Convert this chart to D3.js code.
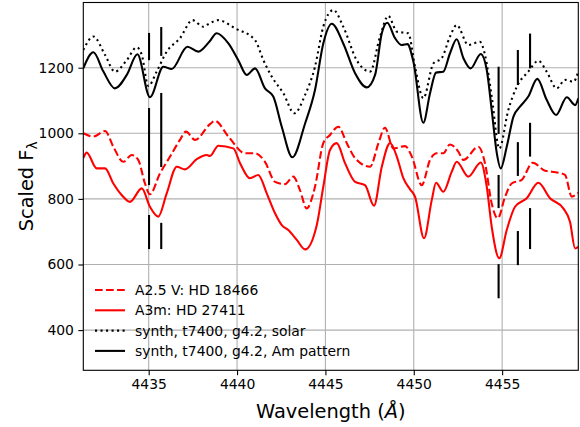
<!DOCTYPE html>
<html>
<head>
<meta charset="utf-8">
<script src="https://cdn.jsdelivr.net/npm/d3@7"></script>
<style>
  html, body { margin: 0; padding: 0; background: #fff; }
  svg { display: block; font-family: "DejaVu Sans", sans-serif; }
</style>
</head>
<body>
<svg id="chart" width="580" height="427"></svg>
<script>
// Spectra around 4430–4460 Å: observed stars (red) and synthetic models (black)
const a25vHD18466 = [
  [4431.30,1000],[4431.87,990],[4432.53,1007],[4433.00,959],[4433.56,913],[4434.04,934],
  [4434.41,919],[4434.79,847],[4435.07,814],[4435.64,878],[4436.21,929],[4436.77,980],
  [4437.11,1005],[4437.62,980],[4438.47,1028],[4438.75,1038],[4439.51,990],[4440.45,939],
  [4441.02,939],[4441.58,913],[4442.15,852],[4442.71,845],[4443.18,868],[4443.56,827],
  [4443.94,771],[4444.41,837],[4444.88,970],[4445.26,995],[4445.73,1020],[4446.21,970],
  [4446.68,924],[4447.53,898],[4448.00,970],[4448.37,1017],[4448.84,954],[4449.51,961],
  [4449.89,929],[4450.45,842],[4450.92,919],[4451.30,939],[4451.67,939],[4452.05,966],
  [4452.52,944],[4452.81,919],[4453.65,959],[4454.03,909],[4454.41,786],[4454.75,741],
  [4455.17,807],[4455.54,847],[4456.11,858],[4456.73,910],[4457.43,886],[4458.18,880],
  [4458.56,873],[4458.94,807],[4459.31,819]
];

const a3mHD27411 = [
  [4431.30,924],[4431.49,941],[4432.06,893],[4432.53,893],[4433.00,847],[4433.47,812],
  [4433.94,791],[4434.61,832],[4435.07,776],[4435.54,746],[4436.02,817],[4436.59,898],
  [4437.06,890],[4437.72,921],[4438.28,934],[4438.47,931],[4438.94,962],[4439.79,954],
  [4440.17,909],[4440.73,863],[4441.20,873],[4441.68,817],[4442.15,756],[4442.53,720],
  [4442.90,705],[4443.38,675],[4443.85,646],[4444.51,720],[4444.88,837],[4445.26,949],
  [4445.64,970],[4446.11,909],[4446.68,852],[4447.24,842],[4447.75,779],[4448.19,898],
  [4448.66,970],[4449.04,929],[4449.41,863],[4449.79,829],[4450.07,807],[4450.58,680],
  [4451.02,797],[4451.26,849],[4451.67,822],[4452.15,883],[4452.43,913],[4453.09,868],
  [4453.79,911],[4454.13,837],[4454.41,715],[4454.84,619],[4455.26,705],[4455.73,776],
  [4456.39,802],[4457.05,849],[4457.71,802],[4458.46,771],[4458.84,730],[4459.13,649],
  [4459.31,654]
];

const synthSolar = [
  [4431.30,1254],[4431.87,1295],[4432.53,1239],[4433.09,1188],[4433.76,1223],[4434.32,1262],
  [4434.61,1239],[4434.98,1144],[4435.45,1188],[4436.02,1249],[4436.77,1290],[4437.48,1345],
  [4438.09,1325],[4438.43,1335],[4438.94,1345],[4439.89,1320],[4441.02,1284],[4441.49,1223],
  [4441.96,1173],[4442.62,1122],[4443.24,1061],[4443.85,1117],[4444.41,1203],[4444.88,1325],
  [4445.45,1376],[4446.01,1325],[4446.77,1223],[4447.53,1188],[4448.09,1295],[4448.56,1358],
  [4449.04,1310],[4449.69,1305],[4450.07,1203],[4450.54,1107],[4451.11,1213],[4451.58,1229],
  [4452.05,1295],[4452.43,1330],[4453.09,1269],[4453.75,1279],[4454.03,1239],[4454.41,1112],
  [4454.84,954],[4455.35,1071],[4455.83,1142],[4456.48,1188],[4457.05,1221],[4457.52,1188],
  [4458.09,1137],[4458.56,1163],[4459.03,1157],[4459.31,1188]
];

const synthAm = [
  [4431.30,1198],[4431.87,1247],[4432.43,1189],[4433.09,1137],[4433.76,1178],[4434.36,1241],
  [4435.07,1110],[4435.83,1203],[4436.30,1196],[4437.19,1264],[4437.81,1249],[4438.43,1279],
  [4438.85,1305],[4439.51,1274],[4440.07,1223],[4440.55,1178],[4441.02,1198],[4441.58,1137],
  [4442.05,1112],[4442.53,1020],[4443.13,927],[4443.85,1030],[4444.41,1132],[4444.88,1274],
  [4445.36,1334],[4446.01,1274],[4446.68,1183],[4447.34,1140],[4447.81,1178],[4448.19,1305],
  [4448.50,1337],[4448.94,1290],[4449.32,1269],[4449.64,1272],[4449.98,1218],[4450.54,1032],
  [4450.92,1122],[4451.26,1185],[4451.67,1188],[4452.05,1244],[4452.43,1287],[4452.81,1229],
  [4453.22,1198],[4453.79,1242],[4454.13,1193],[4454.41,1071],[4454.70,939],[4454.92,893],
  [4455.26,959],[4455.64,1051],[4456.01,1081],[4456.48,1112],[4456.99,1166],[4457.52,1102],
  [4458.05,1056],[4458.66,1110],[4459.13,1086],[4459.31,1107]
];

// Line identifications: wavelength and the flux spans of each marker segment
const markerWavelengths = [4435.02, 4435.71, 4454.80, 4455.89, 4456.58];
const markerSpans = [
  [[1223,1306],[842,1077],[647,751]],
  [[1236,1324],[897,1123],[647,727]],
  [[998,1203],[772,873],[497,601]],
  [[1147,1254],[870,973],[598,702]],
  [[1198,1304],[929,1032],[647,772]]
];

const xTicks = [4435, 4440, 4445, 4450, 4455];
const yTicks = [400, 600, 800, 1000, 1200];
const xDomain = [4431.30, 4459.31];
const yDomain = [277.4, 1398.8];

const seriesLabels = [
  "A2.5 V: HD 18466",
  "A3m: HD 27411",
  "synth, t7400, g4.2, solar",
  "synth, t7400, g4.2, Am pattern"
];

const svg = d3.select("#chart");
const plot = { left: 83.3, right: 578.3, top: 2.5, bottom: 370.3 };

const x = d3.scaleLinear().domain(xDomain).range([plot.left, plot.right]);
const y = d3.scaleLinear().domain(yDomain).range([plot.bottom, plot.top]);

const lw = 2.08;
const styles = [
  { data: a25vHD18466, color: "#ff0000", dash: `${3.7*lw},${1.6*lw}` },
  { data: a3mHD27411, color: "#ff0000", dash: null },
  { data: synthSolar, color: "#000000", dash: `${1*lw},${1.65*lw}` },
  { data: synthAm, color: "#000000", dash: null }
];

svg.append("defs").append("clipPath").attr("id", "clip")
  .append("rect")
  .attr("x", plot.left).attr("y", plot.top)
  .attr("width", plot.right - plot.left).attr("height", plot.bottom - plot.top);

// Grid
const grid = svg.append("g").attr("stroke", "#b0b0b0").attr("stroke-width", 1.1);
grid.selectAll("line.vx").data(xTicks).join("line")
  .attr("x1", d => x(d)).attr("x2", d => x(d))
  .attr("y1", plot.top).attr("y2", plot.bottom);
grid.selectAll("line.hy").data(yTicks).join("line")
  .attr("x1", plot.left).attr("x2", plot.right)
  .attr("y1", d => y(d)).attr("y2", d => y(d));

// Spectra
const line = d3.line()
  .x(d => x(d[0])).y(d => y(d[1]))
  .curve(d3.curveMonotoneX);

const curves = svg.append("g").attr("clip-path", "url(#clip)");
styles.forEach(s => {
  curves.append("path")
    .datum(s.data)
    .attr("d", line)
    .attr("fill", "none")
    .attr("stroke", s.color)
    .attr("stroke-width", lw)
    .attr("stroke-dasharray", s.dash)
    .attr("stroke-linejoin", "round");
});

// Line markers
const markers = svg.append("g").attr("stroke", "#000").attr("stroke-width", 2.1);
markerWavelengths.forEach((wl, i) => {
  markerSpans[i].forEach(span => {
    markers.append("line")
      .attr("x1", x(wl)).attr("x2", x(wl))
      .attr("y1", y(span[0])).attr("y2", y(span[1]));
  });
});

// Axes
const xAxis = d3.axisBottom(x).tickValues(xTicks).tickSize(4.9).tickPadding(4).tickFormat(d3.format("d"));
const yAxis = d3.axisLeft(y).tickValues(yTicks).tickSize(4.9).tickPadding(4.5).tickFormat(d3.format("d"));

const gx = svg.append("g").attr("transform", `translate(0,${plot.bottom})`).call(xAxis);
const gy = svg.append("g").attr("transform", `translate(${plot.left},0)`).call(yAxis);
[gx, gy].forEach(g => {
  g.select(".domain").remove();
  g.selectAll(".tick line").attr("stroke", "#000").attr("stroke-width", 1.1);
  g.selectAll(".tick text")
    .attr("fill", "#000")
    .style("font-family", "'DejaVu Sans', sans-serif")
    .style("font-size", "13.9px");
});

// Frame
svg.append("rect")
  .attr("x", plot.left).attr("y", plot.top)
  .attr("width", plot.right - plot.left).attr("height", plot.bottom - plot.top)
  .attr("fill", "none").attr("stroke", "#000").attr("stroke-width", 1.1);

// Axis labels
const xl = svg.append("text")
  .attr("x", (plot.left + plot.right) / 2).attr("y", 418.3)
  .attr("text-anchor", "middle")
  .style("font-size", "19.4px").attr("fill", "#000");
xl.append("tspan").text("Wavelength (");
xl.append("tspan").style("font-style", "italic").text("Å");
xl.append("tspan").text(")");

const yl = svg.append("text")
  .attr("transform", `translate(32.7,${(plot.top + plot.bottom) / 2}) rotate(-90)`)
  .attr("text-anchor", "middle")
  .style("font-size", "19.4px").attr("fill", "#000");
yl.append("tspan").text("Scaled F");
yl.append("tspan").attr("dy", 4).style("font-size", "13.6px").text("λ");

// Legend
const legend = svg.append("g");
const rowY = [290, 310.3, 330.6, 350.9];
styles.forEach((s, i) => {
  legend.append("line")
    .attr("x1", 95).attr("x2", 125)
    .attr("y1", rowY[i]).attr("y2", rowY[i])
    .attr("stroke", s.color).attr("stroke-width", lw)
    .attr("stroke-dasharray", s.dash);
  legend.append("text")
    .attr("x", 135).attr("y", rowY[i] + 5)
    .style("font-size", "13.9px").attr("fill", "#000")
    .text(seriesLabels[i]);
});
</script>
</body>
</html>
